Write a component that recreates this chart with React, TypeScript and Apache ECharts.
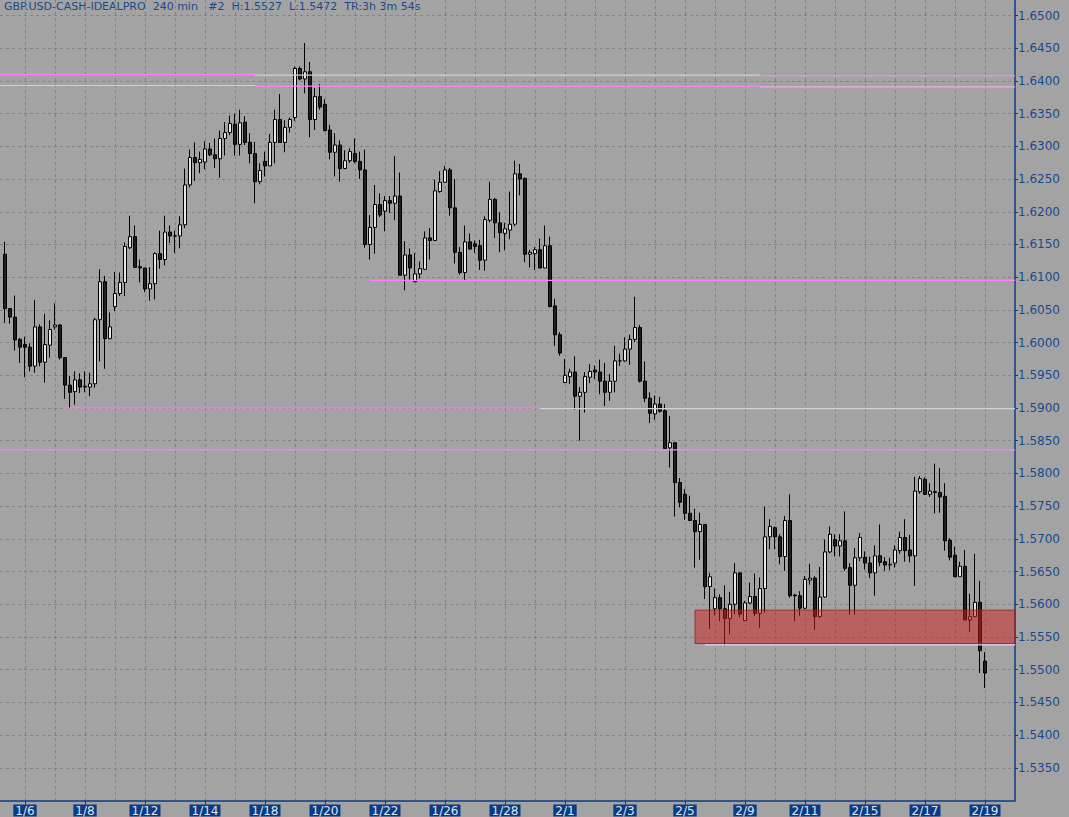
import React, { useEffect, useRef } from 'react';
import * as echarts from 'echarts';

// ---- data ----
const tickLabels = ['1/6', '1/8', '1/12', '1/14', '1/18', '1/20', '1/22', '1/26', '1/28', '2/1', '2/3', '2/5', '2/9', '2/11', '2/15', '2/17', '2/19'];

const opens = [
  1.6135, 1.6052, 1.6039, 1.6005, 1.5997, 1.5993, 1.5964, 1.6024, 1.5970, 1.5996,
  1.6024, 1.6027, 1.5977, 1.5935, 1.5925, 1.5943, 1.5933, 1.5932, 1.5937, 1.6035,
  1.6093, 1.6006, 1.6055, 1.6075, 1.6092, 1.6145, 1.6162, 1.6116, 1.6114, 1.6082,
  1.6090, 1.6136, 1.6127, 1.6169, 1.6163, 1.6163, 1.6180, 1.6241, 1.6283, 1.6275,
  1.6276, 1.6296, 1.6287, 1.6281, 1.6312, 1.6321, 1.6334, 1.6303, 1.6337, 1.6306,
  1.6289, 1.6246, 1.6277, 1.6270, 1.6306, 1.6341, 1.6306, 1.6329, 1.6344, 1.6419,
  1.6403, 1.6414, 1.6341, 1.6376, 1.6364, 1.6325, 1.6291, 1.6302, 1.6266, 1.6278,
  1.6289, 1.6277, 1.6264, 1.6150, 1.6176, 1.6211, 1.6201, 1.6217, 1.6213, 1.6224,
  1.6103, 1.6134, 1.6093, 1.6105, 1.6112, 1.6160, 1.6156, 1.6231, 1.6245, 1.6264,
  1.6206, 1.6138, 1.6107, 1.6154, 1.6151, 1.6148, 1.6126, 1.6187, 1.6219, 1.6183,
  1.6167, 1.6172, 1.6181, 1.6258, 1.6251, 1.6135, 1.6136, 1.6142, 1.6114, 1.6148,
  1.6056, 1.6012, 1.5939, 1.5948, 1.5955, 1.5918, 1.5924, 1.5947, 1.5958, 1.5955,
  1.5941, 1.5924, 1.5941, 1.5972, 1.5972, 1.5990, 1.6005, 1.6023, 1.5941, 1.5915,
  1.5891, 1.5906, 1.5896, 1.5839, 1.5847, 1.5786, 1.5768, 1.5739, 1.5728, 1.5711,
  1.5722, 1.5627, 1.5593, 1.5610, 1.5593, 1.5578, 1.5600, 1.5648, 1.5575, 1.5602,
  1.5612, 1.5586, 1.5624, 1.5703, 1.5717, 1.5703, 1.5673, 1.5728, 1.5614, 1.5613,
  1.5594, 1.5637, 1.5640, 1.5581, 1.5611, 1.5680, 1.5699, 1.5689, 1.5697, 1.5656,
  1.5629, 1.5671, 1.5672, 1.5663, 1.5648, 1.5674, 1.5665, 1.5660, 1.5663, 1.5682,
  1.5702, 1.5683, 1.5674, 1.5772, 1.5791, 1.5768, 1.5772, 1.5771, 1.5765, 1.5698,
  1.5675, 1.5642, 1.5658, 1.5576, 1.5581, 1.5603, 1.5513,
];

const highs = [
  1.6154, 1.6053, 1.6072, 1.6007, 1.6009, 1.5999, 1.6065, 1.6028, 1.6044, 1.6034,
  1.6060, 1.6028, 1.5977, 1.5949, 1.5956, 1.5953, 1.5956, 1.5954, 1.6038, 1.6112,
  1.6102, 1.6046, 1.6108, 1.6107, 1.6153, 1.6194, 1.6179, 1.6127, 1.6114, 1.6115,
  1.6138, 1.6171, 1.6194, 1.6179, 1.6171, 1.6193, 1.6266, 1.6295, 1.6306, 1.6292,
  1.6308, 1.6305, 1.6312, 1.6324, 1.6337, 1.6347, 1.6350, 1.6356, 1.6346, 1.6320,
  1.6307, 1.6274, 1.6292, 1.6319, 1.6356, 1.6380, 1.6340, 1.6344, 1.6422, 1.6422,
  1.6458, 1.6429, 1.6389, 1.6395, 1.6372, 1.6333, 1.6320, 1.6309, 1.6294, 1.6297,
  1.6312, 1.6292, 1.6295, 1.6195, 1.6241, 1.6228, 1.6224, 1.6224, 1.6285, 1.6260,
  1.6155, 1.6144, 1.6137, 1.6124, 1.6170, 1.6175, 1.6249, 1.6262, 1.6270, 1.6267,
  1.6250, 1.6146, 1.6179, 1.6167, 1.6156, 1.6157, 1.6193, 1.6246, 1.6221, 1.6199,
  1.6183, 1.6231, 1.6278, 1.6273, 1.6252, 1.6142, 1.6146, 1.6159, 1.6179, 1.6162,
  1.6067, 1.6016, 1.5975, 1.5960, 1.5979, 1.5932, 1.5955, 1.5967, 1.5965, 1.5974,
  1.5969, 1.5952, 1.5995, 1.5983, 1.6008, 1.6012, 1.6070, 1.6027, 1.5971, 1.5924,
  1.5919, 1.5917, 1.5906, 1.5888, 1.5847, 1.5793, 1.5776, 1.5766, 1.5746, 1.5740,
  1.5722, 1.5648, 1.5624, 1.5615, 1.5629, 1.5619, 1.5663, 1.5648, 1.5605, 1.5633,
  1.5647, 1.5641, 1.5749, 1.5730, 1.5719, 1.5707, 1.5735, 1.5768, 1.5616, 1.5620,
  1.5643, 1.5662, 1.5643, 1.5657, 1.5699, 1.5719, 1.5707, 1.5707, 1.5742, 1.5663,
  1.5686, 1.5709, 1.5681, 1.5673, 1.5690, 1.5722, 1.5672, 1.5671, 1.5690, 1.5711,
  1.5730, 1.5706, 1.5795, 1.5796, 1.5794, 1.5785, 1.5815, 1.5808, 1.5785, 1.5701,
  1.5688, 1.5665, 1.5683, 1.5616, 1.5677, 1.5636, 1.5527,
];

const lows = [
  1.6030, 1.6029, 1.5988, 1.5969, 1.5947, 1.5956, 1.5954, 1.5964, 1.5939, 1.5977,
  1.6020, 1.5974, 1.5914, 1.5900, 1.5905, 1.5923, 1.5924, 1.5918, 1.5931, 1.5971,
  1.5960, 1.6005, 1.6048, 1.6071, 1.6071, 1.6143, 1.6115, 1.6092, 1.6077, 1.6064,
  1.6066, 1.6113, 1.6118, 1.6152, 1.6137, 1.6144, 1.6175, 1.6237, 1.6247, 1.6259,
  1.6265, 1.6285, 1.6267, 1.6252, 1.6286, 1.6317, 1.6286, 1.6286, 1.6302, 1.6274,
  1.6213, 1.6242, 1.6254, 1.6270, 1.6274, 1.6306, 1.6291, 1.6321, 1.6339, 1.6401,
  1.6381, 1.6314, 1.6325, 1.6356, 1.6323, 1.6280, 1.6254, 1.6246, 1.6265, 1.6275,
  1.6274, 1.6250, 1.6145, 1.6127, 1.6136, 1.6192, 1.6170, 1.6198, 1.6187, 1.6103,
  1.6080, 1.6096, 1.6093, 1.6098, 1.6112, 1.6127, 1.6156, 1.6229, 1.6245, 1.6194,
  1.6121, 1.6104, 1.6095, 1.6142, 1.6137, 1.6111, 1.6110, 1.6184, 1.6160, 1.6138,
  1.6141, 1.6158, 1.6178, 1.6225, 1.6123, 1.6115, 1.6111, 1.6114, 1.6114, 1.6054,
  1.5995, 1.5980, 1.5938, 1.5937, 1.5897, 1.5850, 1.5893, 1.5938, 1.5944, 1.5921,
  1.5903, 1.5911, 1.5924, 1.5964, 1.5971, 1.5966, 1.6001, 1.5939, 1.5909, 1.5877,
  1.5882, 1.5893, 1.5838, 1.5809, 1.5734, 1.5748, 1.5729, 1.5728, 1.5656, 1.5668,
  1.5608, 1.5562, 1.5583, 1.5574, 1.5537, 1.5554, 1.5585, 1.5580, 1.5575, 1.5600,
  1.5582, 1.5564, 1.5587, 1.5684, 1.5684, 1.5661, 1.5651, 1.5610, 1.5574, 1.5582,
  1.5592, 1.5630, 1.5561, 1.5579, 1.5610, 1.5678, 1.5673, 1.5673, 1.5651, 1.5584,
  1.5584, 1.5666, 1.5653, 1.5640, 1.5613, 1.5658, 1.5651, 1.5652, 1.5656, 1.5677,
  1.5665, 1.5664, 1.5628, 1.5769, 1.5767, 1.5764, 1.5739, 1.5740, 1.5682, 1.5667,
  1.5642, 1.5642, 1.5576, 1.5558, 1.5581, 1.5495, 1.5472,
];

const closes = [
  1.6052, 1.6039, 1.6004, 1.5993, 1.5993, 1.5964, 1.6024, 1.5970, 1.5997, 1.6020,
  1.6027, 1.5977, 1.5935, 1.5924, 1.5943, 1.5932, 1.5932, 1.5937, 1.6035, 1.6093,
  1.6006, 1.6024, 1.6075, 1.6092, 1.6147, 1.6162, 1.6115, 1.6114, 1.6082, 1.6090,
  1.6136, 1.6127, 1.6169, 1.6163, 1.6163, 1.6180, 1.6241, 1.6283, 1.6275, 1.6280,
  1.6296, 1.6287, 1.6281, 1.6312, 1.6321, 1.6335, 1.6303, 1.6336, 1.6306, 1.6289,
  1.6246, 1.6263, 1.6270, 1.6306, 1.6341, 1.6306, 1.6329, 1.6341, 1.6419, 1.6403,
  1.6414, 1.6341, 1.6376, 1.6360, 1.6324, 1.6291, 1.6302, 1.6266, 1.6278, 1.6292,
  1.6277, 1.6264, 1.6150, 1.6176, 1.6211, 1.6195, 1.6217, 1.6213, 1.6224, 1.6103,
  1.6134, 1.6114, 1.6105, 1.6113, 1.6160, 1.6156, 1.6232, 1.6245, 1.6264, 1.6206,
  1.6138, 1.6107, 1.6154, 1.6143, 1.6147, 1.6126, 1.6188, 1.6219, 1.6183, 1.6168,
  1.6174, 1.6181, 1.6258, 1.6250, 1.6135, 1.6138, 1.6142, 1.6114, 1.6148, 1.6055,
  1.6012, 1.5984, 1.5950, 1.5955, 1.5918, 1.5924, 1.5948, 1.5956, 1.5955, 1.5941,
  1.5924, 1.5941, 1.5972, 1.5972, 1.5990, 1.6005, 1.6023, 1.5941, 1.5915, 1.5892,
  1.5906, 1.5895, 1.5838, 1.5847, 1.5786, 1.5756, 1.5739, 1.5728, 1.5711, 1.5722,
  1.5627, 1.5642, 1.5610, 1.5593, 1.5578, 1.5600, 1.5648, 1.5585, 1.5602, 1.5612,
  1.5586, 1.5624, 1.5703, 1.5719, 1.5703, 1.5673, 1.5728, 1.5613, 1.5613, 1.5594,
  1.5638, 1.5640, 1.5581, 1.5611, 1.5680, 1.5707, 1.5689, 1.5697, 1.5655, 1.5629,
  1.5671, 1.5702, 1.5663, 1.5648, 1.5674, 1.5664, 1.5660, 1.5661, 1.5683, 1.5702,
  1.5682, 1.5674, 1.5773, 1.5792, 1.5768, 1.5773, 1.5771, 1.5764, 1.5697, 1.5672,
  1.5642, 1.5658, 1.5576, 1.5581, 1.5603, 1.5529, 1.5495,
];

// horizontal level lines: price, start slot, end slot, kind
const levelPrices = [1.6410, 1.6409, 1.6408, 1.6393, 1.6392, 1.6391, 1.6095, 1.5900, 1.5899, 1.5836, 1.5538];
const levelStarts = [0, 51, 152, 0, 51, 152, 74, 13, 107.6, 0, 140.8];
const levelEnds = [51, 152, 203, 51, 152, 203, 203, 107.6, 203, 203, 203];
const levelKinds = ['pink', 'gray', 'pink', 'gray', 'pink', 'softpink', 'pink', 'pink', 'gray', 'pink', 'light'];

// support zone: start slot, top price, end slot, bottom price
const zoneStart = 138.6;
const zoneEnd = 203;
const zoneTop = 1.5591;
const zoneBottom = 1.5540;

// ---- layout constants ----
const SLOTS = 204;
const FIRST = 1;
const LABEL_START = 5;
const LABEL_STEP = 12;
const GRID_STEP = 6;

const kindColor: Record<string, string> = {
  pink: '#ff80ff',
  softpink: '#f2a6f2',
  gray: '#d2d2d2',
  light: '#e6d2e6',
};

const BLUE = '#0b3b84';

export default function App() {
  const ref = useRef<HTMLDivElement>(null);

  useEffect(() => {
    if (!ref.current) return;
    const chart = echarts.init(ref.current, undefined, { renderer: 'svg' });

    const cats = Array.from({ length: SLOTS }, (_, j) => 'b' + j);
    const candles = opens.map((o, i) => [i + FIRST, o, closes[i], lows[i], highs[i]]);
    const isLabel = (idx: number) =>
      idx >= LABEL_START && (idx - LABEL_START) % LABEL_STEP === 0 && (idx - LABEL_START) / LABEL_STEP < tickLabels.length;
    const isGrid = (idx: number) => idx >= LABEL_START && idx < SLOTS - 3 && (idx - LABEL_START) % GRID_STEP === 0;

    const last = closes[closes.length - 1];
    const header = `GBP.USD-CASH-IDEALPRO\u00a0\u00a0240 min\u00a0\u00a0\u00a0#2\u00a0\u00a0H:${highs[highs.length - 1].toFixed(4)}\u00a0\u00a0L:${lows[lows.length - 1].toFixed(4)}\u00a0\u00a0TR:3h 3m 54s`;

    const levelSeries = levelPrices.map((p, k) => ({
      type: 'line',
      data: [
        [levelStarts[k], p],
        [levelEnds[k], p],
      ],
      symbol: 'none',
      silent: true,
      z: 4,
      lineStyle: { color: kindColor[levelKinds[k]], width: 1.2 },
      emphasis: { disabled: true },
    }));

    chart.setOption({
      animation: false,
      backgroundColor: '#a3a3a3',
      textStyle: { fontFamily: 'DejaVu Sans' },
      grid: { left: 0, right: 54, top: 0, bottom: 16.5, containLabel: false },
      graphic: [
        {
          type: 'text',
          left: 4,
          top: 1,
          style: { text: header, fill: '#1a4a8e', fontSize: 11, fontFamily: 'DejaVu Sans' },
        },
      ],
      xAxis: {
        type: 'category',
        data: cats,
        boundaryGap: false,
        axisLine: { show: true, lineStyle: { color: BLUE, width: 1.5 } },
        axisTick: { show: true, interval: isLabel, length: 4, lineStyle: { color: BLUE } },
        axisLabel: {
          interval: isLabel,
          formatter: (_v: string, idx: number) => tickLabels[(idx - LABEL_START) / LABEL_STEP] ?? '',
          color: '#dfe5f1',
          backgroundColor: BLUE,
          fontSize: 12,
          lineHeight: 11,
          padding: [1, 2, 0, 2],
          margin: 4,
        },
        splitLine: { show: true, interval: isGrid, lineStyle: { color: '#838383', type: [3, 3], width: 1 } },
      },
      yAxis: {
        type: 'value',
        position: 'right',
        min: 1.53,
        max: 1.65237,
        interval: 0.005,
        axisLine: { show: true, lineStyle: { color: BLUE, width: 1.5 } },
        axisTick: { show: true, length: 3, lineStyle: { color: BLUE } },
        axisLabel: {
          formatter: (v: number) => v.toFixed(4),
          color: '#1a4a8e',
          fontSize: 12,
          margin: 3,
          showMinLabel: false,
          showMaxLabel: false,
        },
        splitLine: {
          show: true,
          showMinLine: false,
          showMaxLine: false,
          lineStyle: { color: '#838383', type: [3, 3], width: 1 },
        },
      },
      series: [
        {
          type: 'candlestick',
          data: candles,
          encode: { x: 0, y: [1, 2, 3, 4] },
          barWidth: 3,
          z: 3,
          itemStyle: {
            color: '#e6e6e6',
            color0: '#1e1e1e',
            borderColor: '#000000',
            borderColor0: '#000000',
            borderWidth: 1,
          },
          markLine: {
            silent: true,
            symbol: ['none', 'none'],
            data: [
              {
                yAxis: last,
                lineStyle: { opacity: 0 },
                label: {
                  show: true,
                  position: 'end',
                  distance: 2,
                  formatter: last.toFixed(4),
                  color: '#e2e8f4',
                  backgroundColor: BLUE,
                  padding: [1, 2, 0, 2],
                  fontSize: 12,
                  fontFamily: 'DejaVu Sans',
                },
              },
            ],
          },
          markArea: {
            silent: true,
            z: 6,
            itemStyle: { color: 'rgba(208,32,32,0.5)', borderColor: 'rgba(150,30,30,0.8)', borderWidth: 1 },
            data: [[{ coord: [zoneStart, zoneTop] }, { coord: [zoneEnd, zoneBottom] }]],
          },
        },
        ...levelSeries,
      ],
    });

    return () => chart.dispose();
  }, []);

  return (
    <div
      ref={ref}
      style={{ position: 'fixed', left: 0, top: 0, width: 1069, height: 817, background: '#a3a3a3' }}
    />
  );
}
